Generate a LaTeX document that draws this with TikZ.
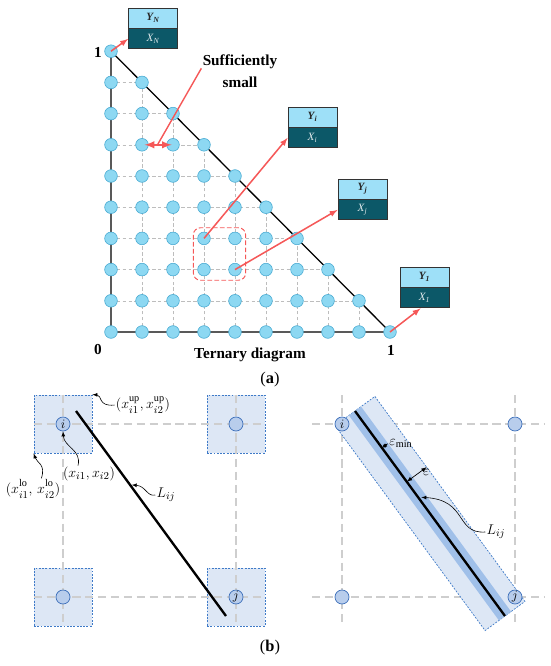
\documentclass[tikz,border=0pt]{standalone}
\usepackage{fontspec}
\setmainfont{Liberation Serif}
\usepackage{amsmath}
\usepackage{tikz}
\usetikzlibrary{arrows,calc,fit,positioning}
\definecolor{skyblue}{RGB}{141,216,242}
\definecolor{skyedge}{RGB}{72,170,210}
\definecolor{paleteal}{RGB}{158,224,248}
\definecolor{deepteal}{RGB}{12,88,104}
\definecolor{salmon}{RGB}{245,88,88}
\definecolor{mistblue}{RGB}{221,231,245}
\definecolor{dashblue}{RGB}{62,122,200}
\definecolor{dotblue}{RGB}{184,205,236}
\definecolor{rimblue}{RGB}{62,112,186}
\definecolor{midblue}{RGB}{160,192,233}
\definecolor{softgrey}{RGB}{206,206,206}
\begin{document}
\begin{tikzpicture}[x=0.03cm, y=-0.03cm]

		\tikzset{
		    gridpt/.style={circle, fill=skyblue, draw=skyedge, line width=0.5pt, minimum size=0.38cm, inner sep=0pt},
		    gridline/.style={softgrey!92!black, line width=0.5pt, dash pattern=on 3pt off 2pt},
		    ytop/.style={fill=paleteal, draw=black!80, line width=0.8pt, minimum width=1.47cm, minimum height=0.6cm, inner sep=0pt, font=\fontsize{9.5}{10}\selectfont\bfseries\itshape, text=black!85},
		    xbot/.style={ytop, fill=deepteal, font=\fontsize{9.5}{10}\selectfont\itshape, text=white!88!deepteal},
		    pointer/.style={salmon, line width=1.3pt, -latex},
		    boldtext/.style={font=\fontsize{13}{18.5}\selectfont\bfseries, inner sep=1pt},
		    cell/.style={fill=mistblue, draw=dashblue, line width=0.6pt, dash pattern=on 1.6pt off 1.2pt, minimum size=1.74cm, inner sep=0pt},
		    guide/.style={softgrey, line width=2.2pt, dash pattern=on 7pt off 4pt},
		    vertex/.style={circle, fill=dotblue, draw=rimblue, line width=0.6pt, minimum size=0.42cm, inner sep=0pt, font=\fontsize{11}{12}\selectfont},
		    lbl/.style={font=\fontsize{12.5}{14}\selectfont, inner sep=1pt},
		    leader/.style={black, line width=0.5pt, -latex}
		}

		\useasboundingbox (0,0) rectangle (550,666);

		% ternary grid

		\foreach \j in {0,...,9} {
			\pgfmathtruncatemacro{\imax}{9-\j}
			\foreach \i in {0,...,\imax}
				\coordinate (p-\i-\j) at ({111+31*\i},{332-31.2*\j});
		}

		\foreach \j in {1,...,8} {
			\pgfmathtruncatemacro{\imax}{9-\j}
			\draw[gridline] (p-0-\j) -- (p-\imax-\j);
			\draw[gridline] (p-\j-0) -- (p-\j-\imax);
		}

		\draw[line width=1.1pt] (p-0-0) -- (p-0-9) -- (p-9-0) -- cycle;

		\foreach \j in {0,...,9} {
			\pgfmathtruncatemacro{\imax}{9-\j}
			\foreach \i in {0,...,\imax}
				\node[gridpt] (d-\i-\j) at (p-\i-\j) {};
		}

		% output boxes

		\node[ytop] (yN) at (153,18) {Y\textsubscript{N}};
		\node[xbot, below=0pt of yN] (xN) {X\textsubscript{N}};
		\node[ytop] (yI) at (312.5,117) {Y\textsubscript{i}};
		\node[xbot, below=0pt of yI] (xI) {X\textsubscript{i}};
		\node[ytop] (yJ) at (362.5,189) {Y\textsubscript{j}};
		\node[xbot, below=0pt of yJ] (xJ) {X\textsubscript{j}};
		\node[ytop] (y1) at (424.5,277) {Y\textsubscript{1}};
		\node[xbot, below=0pt of y1] (x1) {X\textsubscript{1}};

		% markings and text

		\node[fit=(d-3-3)(d-4-2), draw=salmon, line width=0.8pt, dash pattern=on 4pt off 2pt, rounded corners=6pt, inner sep=0.12cm] (pair) {};

		\draw[pointer] (d-0-9.center) -- (xN.west);
		\draw[pointer] (d-3-3.center) -- (xI.west);
		\draw[pointer] (d-4-2.center) -- (xJ.west);
		\draw[pointer] (d-9-0.center) -- ([xshift=-0.12cm]x1.south);

		\node[boldtext, align=center] (small) at (240,71) {Sufficiently\\small};
		\coordinate (gap) at ($(d-1-6)!0.5!(d-2-6)$);
		\draw[salmon, line width=1.8pt, latex-latex, shorten <=0.08cm, shorten >=0.04cm] (d-1-6.center) -- (d-2-6.center);
		\draw[salmon, line width=1.2pt] ([yshift=0.08cm]small.west) -- (gap);

		\node[boldtext] (top1) at (98,52) {1};
		\node[boldtext] (orig) at (98,350) {0};
		\node[boldtext] (right1) at (391,350) {1};
		\node[boldtext] (title) at (250,355) {Ternary diagram};
		\node[font=\fontsize{14}{16}\selectfont] (capa) at (270,380) {(\textbf{a})};

		% box regions around the grid points

		\node[cell] (sq-i) at (63,424) {};
		\node[cell] (sq-k) at (236,424) {};
		\node[cell] (sq-l) at (63,597) {};
		\node[cell] (sq-j) at (236,597) {};

		\draw[guide] (sq-i.west) -- (sq-k.east);
		\draw[guide] (sq-l.west) -- (sq-j.east);
		\draw[guide] (sq-i.north) -- (sq-l.south);
		\draw[guide] (sq-k.north) -- (sq-j.south);

		\node[vertex] (v-i) at (63,424) {$i$};
		\node[vertex] (v-k) at (236,424) {};
		\node[vertex] (v-l) at (63,597) {};
		\node[vertex] (v-j) at (236,597) {$j$};

		\coordinate (la) at (76,411);
		\coordinate (lb) at (226,616);
		\draw[line width=2pt] (la) -- (lb);

		\node[lbl] (lab-up) at (143,405) {$(x_{i1}^{\mathrm{up}},x_{i2}^{\mathrm{up}})$};
		\node[lbl] (lab-lo) at (33,489) {$(x_{i1}^{\mathrm{lo}\vphantom{p}},\,x_{i2}^{\mathrm{lo}\vphantom{p}})$};
		\node[lbl] (lab-x) at (89,474) {$(x_{i1},x_{i2})$};
		\node[lbl] (lab-L) at (166,495) {$L_{ij}$};

		\draw[leader] (lab-up.west) .. controls (98,407) and (102,395) .. (sq-i.north east);
		\draw[leader] ([xshift=0.25cm]lab-lo.north) .. controls (46,464) and (37,463) .. (sq-i.south west);
		\draw[leader] ([xshift=-0.33cm]lab-x.north) .. controls (82,450) and (64,447) .. (v-i.south);
		\draw[leader, shorten >=0.05cm] (lab-L.west) .. controls (147,497) and (146,486) .. ($(la)!0.36!(lb)$);

		% tolerance band around the line

		\coordinate (r-iw) at (312,424);
		\coordinate (r-ke) at (544,424);
		\coordinate (r-lw) at (312,597);
		\coordinate (r-je) at (544,597);
		\coordinate (r-in) at (342,395);
		\coordinate (r-ls) at (342,626);
		\coordinate (r-kn) at (515,395);
		\coordinate (r-js) at (515,626);

		\draw[guide] (r-iw) -- (r-ke);
		\draw[guide] (r-lw) -- (r-je);
		\draw[guide] (r-in) -- (r-ls);
		\draw[guide] (r-kn) -- (r-js);

		\coordinate (ra) at (355,411);
		\coordinate (rb) at (505,616);

		\draw[fill=mistblue, draw=dashblue, line width=0.6pt, dash pattern=on 1.6pt off 1.2pt]
			($(ra)!0.74cm!90:(rb)$) -- ($(rb)!0.74cm!-90:(ra)$) -- ($(rb)!0.74cm!90:(ra)$) -- ($(ra)!0.74cm!-90:(rb)$) -- cycle;
		\draw[midblue, line width=0.45cm] (ra) -- (rb);

		\node[vertex] (w-i) at (342,424) {$i$};
		\node[vertex] (w-k) at (515,424) {};
		\node[vertex] (w-l) at (342,597) {};
		\node[vertex] (w-j) at (515,597) {$j$};

		\draw[line width=2pt] (ra) -- (rb);

		\coordinate (m1) at ($(ra)!0.18!(rb)$);
		\coordinate (m2) at ($(m1)!0.225cm!90:(rb)$);
		\draw[line width=0.5pt, latex-latex] (m1) -- (m2);
		\node[lbl, anchor=west] (lab-emin) at (m2) {$\varepsilon_{\min}$};

		\coordinate (e1) at ($(ra)!0.345!(rb)$);
		\coordinate (e2) at ($(e1)!0.74cm!90:(rb)$);
		\draw[line width=0.6pt, latex-latex] (e1) -- (e2);
		\node[lbl, below=1pt of e2] (lab-eps) {$\varepsilon$};

		\node[lbl] (lab-L2) at (496,532) {$L_{ij}$};
		\draw[leader, shorten >=0.1cm] (lab-L2.west) .. controls (455,534) and (468,500) .. ($(ra)!0.42!(rb)$);

		\node[font=\fontsize{14}{16}\selectfont] (capb) at (270,648) {(\textbf{b})};

\end{tikzpicture}
\end{document}
